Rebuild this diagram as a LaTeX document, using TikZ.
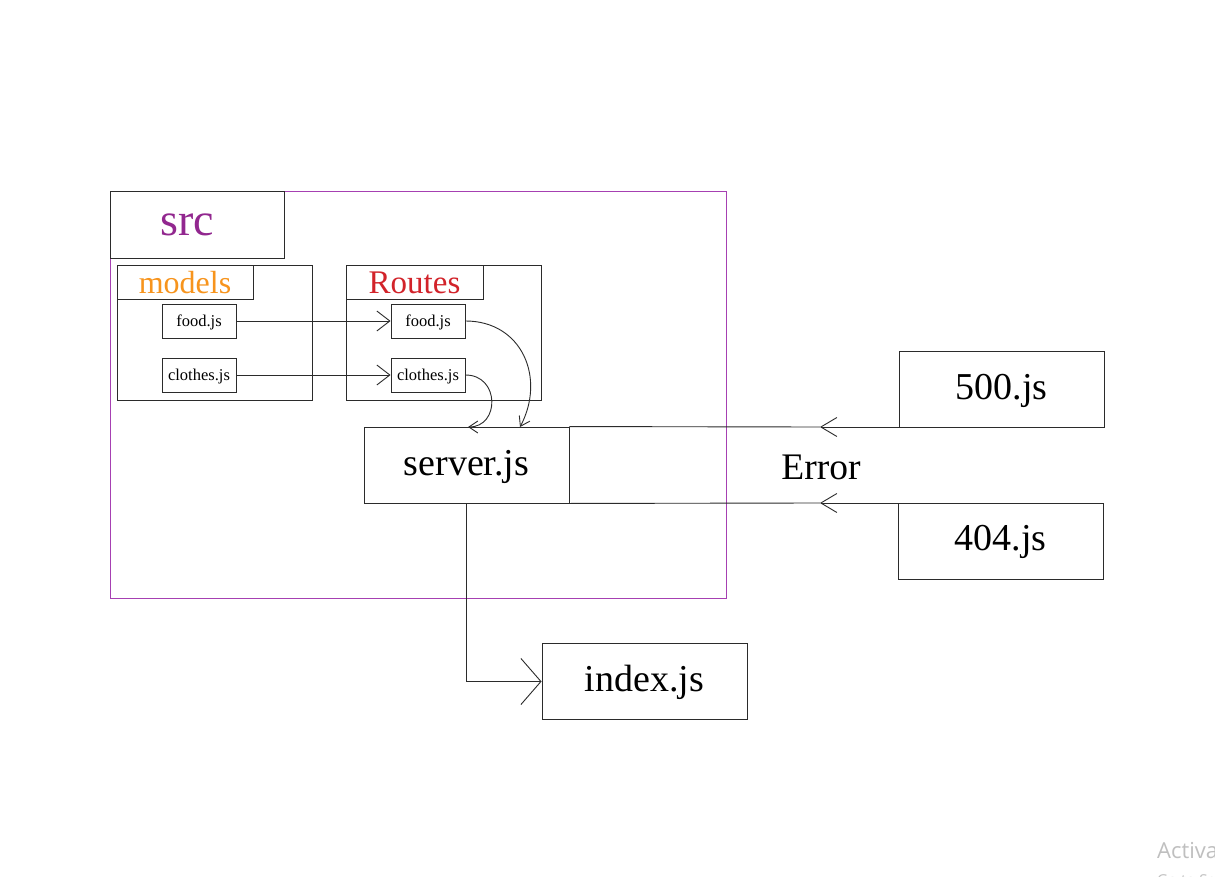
\documentclass[tikz,border=0pt]{standalone}
\usepackage{fontspec}
\setmainfont{Liberation Serif}
\newfontfamily\wmfont{Open Sans}
\usetikzlibrary{arrows.meta}
\definecolor{srcpurple}{HTML}{92278F}
\definecolor{boxpurple}{HTML}{A640B2}
\definecolor{modorange}{HTML}{F7941D}
\definecolor{routered}{HTML}{D2232A}
\definecolor{linegray}{HTML}{2B2B2B}
\newcommand{\lowerby}[2]{\raisebox{-#1}[\height][\depth]{#2}}
\begin{document}
\begin{tikzpicture}[x=1pt,y=-1pt,
  box/.style={draw=linegray, line width=0.9pt, inner sep=0pt},
  filebox/.style={box, minimum width=74, minimum height=34, font=\fontsize{16.5}{18}\selectfont},
  bigbox/.style={box, minimum width=205, minimum height=75.5, font=\fontsize{38}{40}\selectfont},
  conn/.style={draw=linegray, line width=0.9pt},
  bigtip/.style={conn, -{Straight Barb[length=20pt, width=46pt]}},
  errtip/.style={conn, -{Straight Barb[length=16pt, width=19pt]}},
  medtip/.style={conn, -{Straight Barb[length=13pt, width=20pt]}},
  smalltip/.style={conn, -{Straight Barb[length=9pt, width=12pt]}},
]
\clip (0,0) rectangle (1215,877);
\fill[white] (0,0) rectangle (1215,877);

% src container
\node[draw=boxpurple, line width=0.9pt, inner sep=0pt, minimum width=616, minimum height=407] (src) at (418,394.5) {};
\node[box, minimum width=174, minimum height=67] (srclabel) at (197,224.5) {};
\node[text=srcpurple, font=\fontsize{46}{48}\selectfont, inner sep=0pt] (srctext) at (187,225) {src};

% models group
\node[box, minimum width=195, minimum height=135] (models) at (214.5,332.5) {};
\node[box, minimum width=136, minimum height=34, text=modorange, font=\fontsize{32}{34}\selectfont] (modlabel) at (185,282) {\lowerby{1pt}{models}};
\node[filebox] (mfood) at (199,321) {\lowerby{1.5pt}{food.js}};
\node[filebox] (mcloth) at (199,375) {\lowerby{1.5pt}{clothes.js}};

% routes group
\node[box, minimum width=195, minimum height=135] (routes) at (443.5,332.5) {};
\node[box, minimum width=137, minimum height=34, text=routered, font=\fontsize{33}{34}\selectfont] (routelabel) at (414.5,282) {\lowerby{1pt}{Routes}};
\node[filebox] (rfood) at (428,321) {\lowerby{1.5pt}{food.js}};
\node[filebox] (rcloth) at (428,375) {\lowerby{1.5pt}{clothes.js}};

% server, errors, index
\node[bigbox, minimum height=76] (server) at (466.5,465) {\lowerby{2pt}{server.js}};
\node[inner sep=0pt, font=\fontsize{37.5}{40}\selectfont] (error) at (821,467) {Error};
\node[bigbox] (f500) at (1001.5,389.5) {\lowerby{1pt}{500.js}};
\node[bigbox, minimum height=76] (f404) at (1000.5,541) {\lowerby{1pt}{404.js}};
\node[bigbox] (index) at (644.5,681.5) {\lowerby{1pt}{index.js}};

% connectors
\draw[medtip] (mfood.east) -- (rfood.west);
\draw[medtip] (mcloth.east) -- (rcloth.west);
\coordinate (sA) at (520,427);
\coordinate (sB) at (468,427);
\draw[smalltip] (rfood.east) .. controls (522,321) and (546,378) .. (sA);
\draw[smalltip] (rcloth.east) .. controls (500,375) and (500,427) .. (sB);

\coordinate (e1) at (820,427);
\coordinate (e2) at (820,503);
\coordinate (errtopend) at (1104,427);
\coordinate (errbotend) at (1103,503);
\draw[errtip] (errtopend) -- (e1);
\draw[conn] (e1) -- (server.north east);
\draw[errtip] (errbotend) -- (e2);
\draw[conn] (e2) -- (server.south east);

\draw[bigtip] (server.south) |- (index.west);

% watermark (cut off at the edge, as in the reference)
\node[anchor=base west, inner sep=0pt, text=black!25, font=\wmfont\fontsize{22}{24}\selectfont] (wm1) at (1157,858) {Activate Windows};
\node[anchor=base west, inner sep=0pt, text=black!25, font=\wmfont\fontsize{15}{16}\selectfont] (wm2) at (1157,885) {Go to Settings to activate Windows.};
\end{tikzpicture}
\end{document}
